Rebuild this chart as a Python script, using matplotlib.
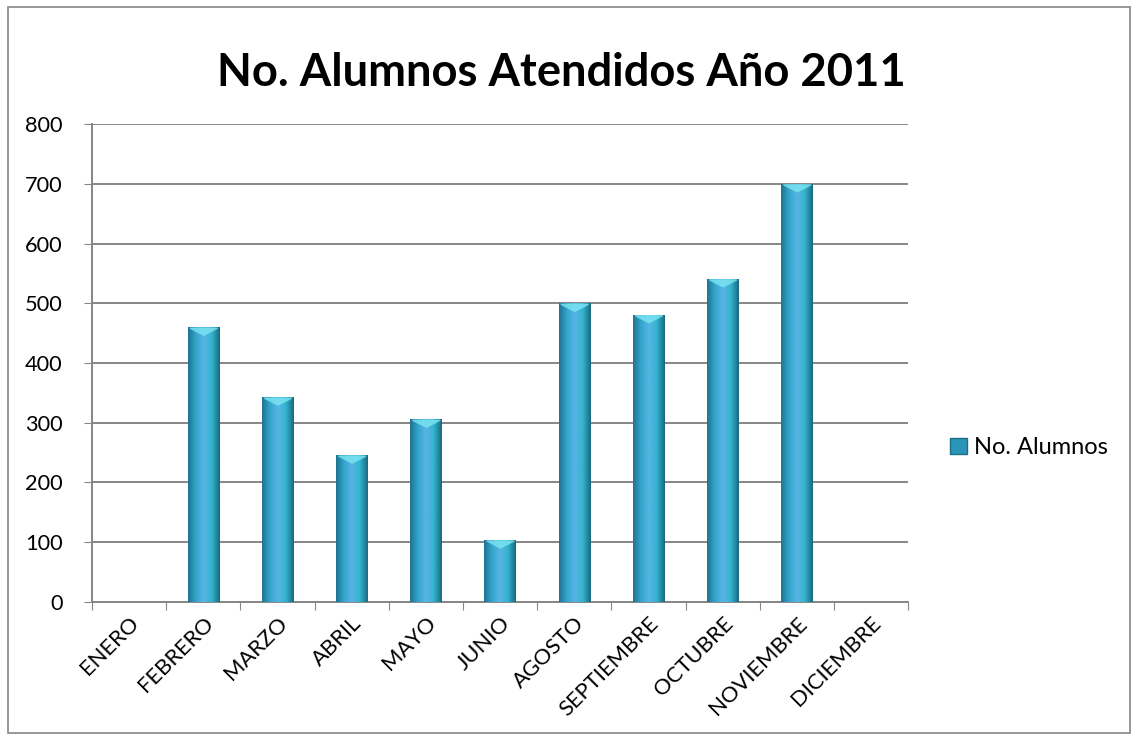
import numpy as np
import matplotlib
matplotlib.use('Agg')
from matplotlib import pyplot as plt
from matplotlib.patches import Rectangle, Patch
from matplotlib.colors import LinearSegmentedColormap

meses = ['ENERO', 'FEBRERO', 'MARZO', 'ABRIL', 'MAYO', 'JUNIO', 'AGOSTO',
         'SEPTIEMBRE', 'OCTUBRE', 'NOVIEMBRE', 'DICIEMBRE']
alumnos = [0, 460, 343, 246, 306, 104, 500, 481, 541, 700, 0]
yticks = [0, 100, 200, 300, 400, 500, 600, 700, 800]

plt.rcParams['font.family'] = ['Lato', 'DejaVu Sans']

fig = plt.figure(figsize=(11.38, 7.4), dpi=100)
ax = fig.add_axes([0.0808, 0.1865, 0.7172, 0.6459])

x = np.arange(len(meses))
bars = ax.bar(x, alumnos, width=0.42, color='#2aa5c4', zorder=2, label='No. Alumnos')

# gradient across each bar (dark edges, light middle)
grad = LinearSegmentedColormap.from_list('barra', ['#1f7391', '#33a6cc', '#58b4e4', '#33b4cf', '#1a6a80'])
img = np.linspace(0, 1, 64).reshape(1, -1)
for b in bars:
    if b.get_height() <= 0:
        continue
    x0, w, h = b.get_x(), b.get_width(), b.get_height()
    im = ax.imshow(img, cmap=grad, aspect='auto', extent=(x0, x0 + w, 0, h), zorder=3)
    im.set_clip_path(b)
    ax.fill_between([x0 + 0.05 * w, x0 + 0.5 * w, x0 + 0.95 * w], [h - 2, h - 14, h - 2], [h, h, h],
                    color='#7de6f2', alpha=0.8, zorder=4, lw=0)
    b.set_alpha(0)

ax.set_xlim(-0.5, len(meses) - 0.5)
ax.set_ylim(0, 800)
ax.set_yticks(yticks)
ax.set_xticks(np.arange(len(meses) + 1) - 0.5)
ax.set_xticklabels([])
ax.set_xticks(x, minor=True)
ax.set_xticklabels(meses, minor=True, rotation=45, ha='right', rotation_mode='anchor', fontsize=15.8)
ax.tick_params(axis='x', which='minor', length=0, pad=8)
ax.tick_params(axis='x', which='major', length=6, direction='out', color='#868686')
ax.tick_params(axis='y', length=6, direction='out', color='#868686', labelsize=15.7, pad=15)

ax.grid(axis='y', color='#868686', lw=1.4, zorder=1)
for s in ['top', 'right']:
    ax.spines[s].set_visible(False)
for s in ['left', 'bottom']:
    ax.spines[s].set_color('#868686')
    ax.spines[s].set_linewidth(1.4)

fig.text(0.493, 0.901, 'No. Alumnos Atendidos Año 2011', ha='center', va='center',
         fontsize=32.7, fontweight='bold')

h = Patch(facecolor='#2a95b8', edgecolor='#1d6f86')
fig.legend([h], ['No. Alumnos'], loc='center left', bbox_to_anchor=(0.835, 0.3946),
           frameon=False, fontsize=17, handlelength=0.7, handleheight=0.7, handletextpad=0.3,
           borderpad=0, borderaxespad=0)

fig.patches.append(Rectangle((0.007, 0.01), 0.986, 0.98, transform=fig.transFigure,
                             fill=False, edgecolor='#868686', lw=1.2))

fig.savefig('out.png', dpi=100)
